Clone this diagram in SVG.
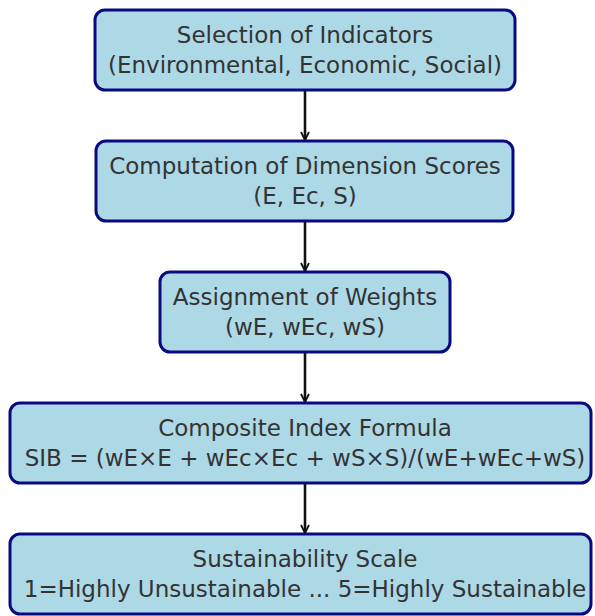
<svg xmlns="http://www.w3.org/2000/svg" width="595" height="616" viewBox="0 0 595 616">
<defs>
<marker id="ah" markerWidth="12" markerHeight="12" refX="9" refY="6" orient="auto" markerUnits="userSpaceOnUse">
<path d="M1,2 L9,6 L1,10" fill="none" stroke="#111" stroke-width="1.8"/>
</marker>
<style>
.box{fill:#add8e6;stroke:#0a0a80;stroke-width:3}
.t{font-family:"DejaVu Sans",sans-serif;font-size:23px;fill:#333;text-anchor:middle}
.c{stroke:#111;stroke-width:2.6;fill:none}
</style>
</defs>
<rect width="595" height="616" fill="#fff"/>
<g id="connectors">
<line class="c" x1="305" y1="90" x2="305" y2="140" marker-end="url(#ah)"/>
<line class="c" x1="305" y1="221" x2="305" y2="271" marker-end="url(#ah)"/>
<line class="c" x1="305" y1="352" x2="305" y2="402" marker-end="url(#ah)"/>
<line class="c" x1="305" y1="483" x2="305" y2="533" marker-end="url(#ah)"/>
</g>
<g id="n1">
<rect class="box" x="95" y="10" width="420" height="80" rx="10"/>
<text class="t" x="305" y="43">Selection of Indicators</text>
<text class="t" x="305" y="73">(Environmental, Economic, Social)</text>
</g>
<g id="n2">
<rect class="box" x="96" y="141" width="417" height="80" rx="10"/>
<text class="t" x="305" y="174">Computation of Dimension Scores</text>
<text class="t" x="305" y="204">(E, Ec, S)</text>
</g>
<g id="n3">
<rect class="box" x="160" y="272" width="290" height="80" rx="10"/>
<text class="t" x="305" y="305">Assignment of Weights</text>
<text class="t" x="305" y="335">(wE, wEc, wS)</text>
</g>
<g id="n4">
<rect class="box" x="10" y="403" width="581" height="80" rx="10"/>
<text class="t" x="305" y="436">Composite Index Formula</text>
<text class="t" x="305" y="466">SIB = (wE×E + wEc×Ec + wS×S)/(wE+wEc+wS)</text>
</g>
<g id="n5">
<rect class="box" x="10" y="534" width="581" height="80" rx="10"/>
<text class="t" x="305" y="567">Sustainability Scale</text>
<text class="t" x="305" y="597">1=Highly Unsustainable ... 5=Highly Sustainable</text>
</g>
</svg>
